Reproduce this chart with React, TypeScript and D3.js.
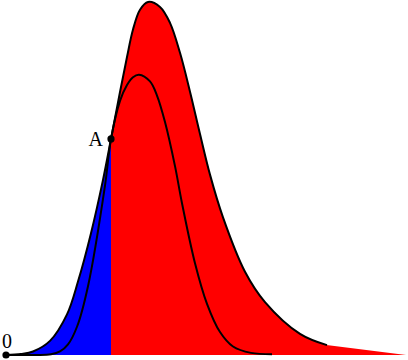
import React from "react";
import * as d3 from "d3";

const outerX = [0, 0.15, 0.27, 0.44, 0.61, 0.72, 0.85, 0.97, 1.05, 1.14, 1.21, 1.27, 1.34, 1.42, 1.54, 1.64, 1.74, 1.84, 1.94, 2.04, 2.17, 2.39, 2.59, 2.94, 3.21];
const outerY = [0, 0.003, 0.01, 0.04, 0.115, 0.208, 0.345, 0.496, 0.612, 0.745, 0.844, 0.922, 0.978, 1.0, 0.986, 0.941, 0.856, 0.746, 0.626, 0.511, 0.39, 0.236, 0.15, 0.06, 0.028];
const innerX = [0, 0.3, 0.45, 0.54, 0.62, 0.71, 0.82, 0.99, 1.05, 1.14, 1.21, 1.27, 1.33, 1.44, 1.51, 1.59, 1.69, 1.76, 1.89, 2.01, 2.14, 2.27, 2.45, 2.66];
const innerY = [0, 0.0, 0.002, 0.01, 0.03, 0.08, 0.195, 0.48, 0.612, 0.72, 0.765, 0.787, 0.794, 0.775, 0.735, 0.66, 0.535, 0.43, 0.26, 0.145, 0.065, 0.024, 0.006, 0.002];
const tailEnd = [4.0, 0];
const splitX = 1.05;
const pointA = [1.05, 0.612];
const origin = [0, 0];

export default function App() {
  const W = 408, H = 360;
  const x = d3.scaleLinear().domain([0, 4]).range([6, 406]);
  const y = d3.scaleLinear().domain([0, 1]).range([355, 2]);
  const outer = outerX.map((v, i) => [v, outerY[i]] as [number, number]);
  const inner = innerX.map((v, i) => [v, innerY[i]] as [number, number]);
  const curve = d3.curveCatmullRom.alpha(0.5);
  const area = d3.area<[number, number]>().x(d => x(d[0])).y0(y(0)).y1(d => y(d[1])).curve(curve);
  const line = d3.line<[number, number]>().x(d => x(d[0])).y(d => y(d[1])).curve(curve);
  const last = outer[outer.length - 1];
  const tail = `M${x(last[0]) - 0.5},${y(last[1])}L${x(tailEnd[0])},${y(tailEnd[1])}L${x(last[0]) - 0.5},${y(0)}Z`;
  const fillPath = area(outer) as string;
  return (
    <svg width={W} height={H} style={{ position: "absolute", left: 0, top: 0 }}>
      <defs>
        <clipPath id="leftClip"><rect x={0} y={0} width={x(splitX)} height={H} /></clipPath>
        <clipPath id="rightClip"><rect x={x(splitX)} y={0} width={W} height={H} /></clipPath>
      </defs>
      <g clipPath="url(#rightClip)">
        <path d={fillPath} fill="#ff0000" />
        <path d={tail} fill="#ff0000" />
      </g>
      <g clipPath="url(#leftClip)">
        <path d={fillPath} fill="#0000ff" />
      </g>
      <path d={line(outer) as string} fill="none" stroke="#000" strokeWidth={2} />
      <path d={line(inner) as string} fill="none" stroke="#000" strokeWidth={2} />
      <circle cx={x(pointA[0])} cy={y(pointA[1])} r={3.6} fill="#000" />
      <circle cx={x(origin[0])} cy={y(origin[1])} r={3.6} fill="#000" />
      <text x={x(origin[0]) + 1} y={y(origin[1]) - 7} fontFamily="'Liberation Serif', serif" fontSize={20} textAnchor="middle" fill="#000">0</text>
      <text x={x(pointA[0]) - 8} y={y(pointA[1]) + 7} fontFamily="'Liberation Serif', serif" fontSize={20} textAnchor="end" fill="#000">A</text>
    </svg>
  );
}
